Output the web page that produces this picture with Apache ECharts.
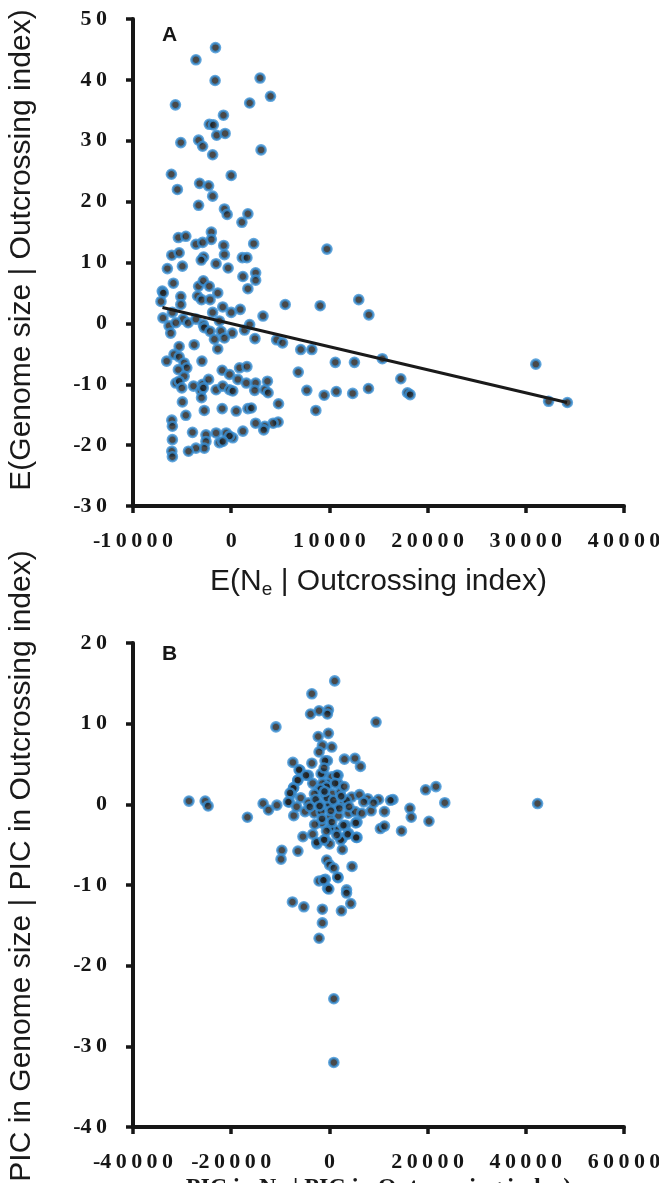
<!DOCTYPE html>
<html>
<head>
<meta charset="utf-8">
<script src="https://cdn.jsdelivr.net/npm/echarts@6/dist/echarts.min.js"></script>
<style>
  html, body { margin: 0; padding: 0; background: #fff; }
  #chart { width: 659px; height: 1183px; }
</style>
</head>
<body>
<div id="chart"></div>
<script>
// Panel A: E(Genome size | Outcrossing index) vs E(Ne | Outcrossing index)
const aX = [-1600, -3590, -1640, 2940, 4000, -5680, 1880, -790, -2230, -1820, -1480, -620, -5130, -3320, -2910, 3040, -1890, -6090, 0, -5480,
  -3220, -2300, -1890, -3320, -690, -410, 1700, 1090, -5380, -4620, -2020, -2020, -3590, -2910, -760, 2290, -6050, -5300, -690, -2810,
  1130, 1600, -6500, -4970, -3050, -1540, -310, 9750, 1190, 2490, 2490, 1700, -5890, -7020, -6920, -7150, -5130, -5130, -3320, -2840,
  -2230, -1370, -3430, -3020, -2150, -860, 0, 920, 3240, 5500, 9060, -6950, -5990, -4900, -4380, -3590, -2840, -2740, -1890, -1200,
  -6330, -5640, -6160, -2150, -1030, 100, 1360, 1880, -1710, -690, 2420, 4620, 5230, -3770, -1370, -5300, 7080, 8210, -6570, -5820,
  -5300, -4790, -4520, -2980, -5380, 850, 1600, -920, -170, -4790, -5640, -5300, -5030, -3840, -2910, -2300, -3080, -2840, -1540, -860,
  -170, 160, 680, 1540, 2490, 2390, 3420, 3690, 3760, 7700, 9470, 6830, -3020, -4970, -920, -2740, 510, 1700, 2050, 4820,
  8620, -4620, -6050, -5990, 4780, 4270, 3420, 3310, 2490, 1190, 160, -3940, -2570, -1540, -510, -170, -1200, -860, -2570, -5990,
  -2740, -3590, -4350, -6050, -5990, 12990, 14020, 10600, 12550, 15390, 10700, 12370, 13980, 17270, 17950, 18220, 31020, 32320, 34230];
const aY = [45.3, 43.3, 39.9, 40.3, 37.3, 35.9, 36.2, 34.2, 32.7, 32.6, 30.9, 31.2, 29.7, 30.1, 29.1, 28.5, 27.7, 24.5, 24.3, 22.0,
  23.0, 22.6, 20.9, 19.4, 18.8, 17.9, 18.0, 16.6, 14.1, 14.3, 15.0, 13.8, 13.0, 13.3, 12.8, 13.1, 11.2, 11.6, 11.3, 10.9,
  10.8, 10.8, 9.0, 9.4, 10.4, 9.8, 9.1, 12.2, 7.7, 8.3, 7.1, 5.7, 6.6, 5.3, 5.0, 3.6, 4.4, 3.1, 6.1, 7.0,
  6.1, 5.0, 4.5, 3.9, 3.9, 2.7, 1.8, 2.3, 1.2, 3.1, 2.9, 0.9, 1.8, 0.7, 0.1, 0.7, -0.2, -0.7, 1.8, 0.4,
  -0.4, 0.1, -1.6, -1.3, -1.3, -1.6, -1.1, -0.2, -2.6, -2.4, -2.5, -2.7, -3.2, -3.5, -4.2, -3.8, -4.3, -4.3, -6.2, -5.1,
  -5.5, -6.5, -7.3, -6.2, -7.6, -7.3, -7.1, -7.7, -8.4, -8.7, -9.8, -9.5, -10.6, -10.3, -10.0, -9.2, -11.1, -10.6, -10.9, -10.3,
  -10.9, -11.1, -9.2, -9.8, -9.8, -11.0, -10.9, -9.5, -11.4, -11.0, -11.8, -8.0, -12.2, -12.9, -14.0, -14.3, -14.4, -14.0, -13.9, -13.2,
  -14.3, -15.1, -15.9, -16.9, -16.2, -16.4, -16.9, -17.5, -16.4, -17.7, -18.8, -17.9, -18.3, -18.0, -18.0, -18.5, -19.6, -19.4, -19.4, -19.1,
  -20.5, -20.5, -21.0, -21.0, -21.9, 3.9, 1.4, -6.4, -6.4, -5.8, -11.2, -11.5, -10.7, -9.1, -11.4, -11.7, -6.7, -12.8, -13.0];
// fitted regression line in panel A (end points)
const fitX = [-7000, 34200];
const fitY = [2.6, -13.0];

// Panel B: PIC in Genome size vs PIC in Ne
const bX = [1080, -3570, -3840, -2100, -200, -400, -10890, 9500, -2280, -200, -1430, 480, -2100, 3060, 5200, 6320, -7440, -3570, -400, -5980,
  -4280, -1240, 470, 1770, -6410, -7260, -7710, -3400, -2100, -390, 1770, 19600, 21700, 23500, 42400, -28600, -25300, -24700, -16700, -13500,
  -12400, -10700, -8140, -7260, 12950, 11220, 16400, 16670, 20280, 10380, 11220, 14690, 5630, 3320, 470, 1350, 3920, 5630, -5390, -3400,
  -820, -2530, 40, 2630, 2630, -9690, -9850, -6410, -550, 40, 900, 4610, 1770, -2100, -820, -390, 3490, -120, 3490, -7530,
  -5200, -1430, 2450, 4350, -1430, -2100, 900, 900, -6180, -4760, -6460, -7340, -8020, -1690, -1430, -550, -1770, -3060, -1020, 610,
  2180, 1490, 1160, -5850, -4280, -2240, -1020, 1160, 2860, 4550, 6120, 7810, 10000, 12440, -8360, -6670, -4960, -3060, -1690, 140,
  1840, 3880, 5240, 6590, 8510, -1570, 140, 2860, 5370, -2590, -1080, 2310, 3730, 5450, 1690, -1220, -880, -1080, 0, -500,
  800, 2000, 3500, -2800, -1500, 500, 2400, 4000, 1500, -600, -3000, 7000, 9000, -4000, -1000, 3000, 300, -2000];
const bY = [15.3, 13.7, 11.2, 11.6, 11.7, 11.2, 9.6, 10.2, 8.4, 8.8, 7.3, 7.1, 6.5, 5.6, 5.7, 4.7, 5.2, 5.1, 5.4, 4.2,
  3.6, 3.8, 3.4, 3.6, 3.0, 2.1, 1.3, 2.6, 1.9, 2.6, 2.6, 1.8, 2.2, 0.2, 0.1, 0.4, 0.4, -0.2, -1.6, 0.1,
  -0.7, -0.1, 0.3, -1.4, 0.6, -0.9, -0.5, -1.6, -2.1, -3.0, -2.7, -3.3, -2.2, -2.6, -3.0, -3.2, -3.6, -4.1, -4.0, -3.7,
  -4.4, -4.9, -4.9, -4.2, -5.6, -5.7, -6.8, -5.8, -6.9, -7.5, -7.9, -7.7, -9.1, -9.5, -9.3, -10.4, -10.6, -10.5, -11.0, -12.1,
  -12.7, -13.0, -13.2, -12.3, -14.7, -16.6, -24.1, -32.0, 4.3, 3.6, 3.0, 2.0, 1.4, 3.8, 2.6, 2.2, 1.9, 1.3, 1.2, 1.3,
  1.5, 3.6, 2.6, 0.8, 0.2, 0.1, -0.3, -0.2, 0.2, 0.9, 1.2, 0.7, 0.6, 0.5, 0.3, -0.3, -0.9, -1.1, -0.9, -1.6,
  -1.4, -1.1, -0.9, -1.1, -0.8, -2.3, -2.9, -2.6, -2.3, -4.7, -4.4, -4.4, -3.7, -4.1, -9.0, -9.4, 5.4, 4.5, 0.0, 0.8,
  0.5, -0.5, 0.5, 0.6, -1.8, -2.2, 1.0, -0.3, -3.8, -3.3, -2.5, 0.3, 0.2, -0.3, 1.6, 2.2, -0.8, -0.2];

const pairs = (xs, ys) => xs.map((x, i) => [x, ys[i]]);

// tick labels: bold serif, digits pulled apart with thin spaces
const spaced = v => {
  const s = String(v);
  const neg = s[0] === '-';
  const digits = (neg ? s.slice(1) : s).split('').join('\u2009');
  return (neg ? '-' : '') + digits;
};

const axisColor = '#161616';
const tickFont = { color: axisColor, fontFamily: 'Liberation Serif', fontWeight: 700, fontSize: 22 };

function valueAxis(extra) {
  return Object.assign({
    type: 'value',
    splitLine: { show: false },
    axisLine: { show: true, onZero: false, lineStyle: { color: axisColor, width: 4 } },
    axisTick: { show: true, length: 7, lineStyle: { color: axisColor, width: 3.5 } },
    axisLabel: Object.assign({ formatter: spaced }, tickFont)
  }, extra);
}

const dotStyle = { color: '#1b1b1b', borderColor: '#3990d4', borderWidth: 2.6 };

const chart = echarts.init(document.getElementById('chart'));

const option = {
  backgroundColor: '#fff',
  animation: false,
  grid: [
    { left: 133, top: 19, width: 491, height: 487, containLabel: false, outerBoundsMode: 'none' },
    { left: 133, top: 643, width: 491, height: 484, containLabel: false, outerBoundsMode: 'none' }
  ],
  xAxis: [
    valueAxis({
      gridIndex: 0, min: -10000, max: 40000, interval: 10000,
      axisLabel: Object.assign({ formatter: spaced, margin: 24 }, tickFont),
      name: '{a|E(N}{s|e}{a| | Outcrossing index)}',
      nameLocation: 'middle', nameGap: 58,
      nameTextStyle: {
        rich: {
          a: { fontFamily: 'Liberation Sans', fontSize: 30, color: '#1a1a1a' },
          s: { fontFamily: 'Liberation Sans', fontSize: 19, color: '#1a1a1a', padding: [16, 0, 0, 0] }
        }
      }
    }),
    valueAxis({
      gridIndex: 1, min: -40000, max: 60000, interval: 20000,
      axisLabel: Object.assign({ formatter: spaced, margin: 24 }, tickFont),
      name: 'PIC in Ne | PIC in Outcrossing index)',
      nameLocation: 'middle', nameGap: 49,
      nameTextStyle: { fontFamily: 'Liberation Serif', fontWeight: 'bold', fontSize: 24, color: '#1a1a1a' }
    })
  ],
  yAxis: [
    valueAxis({
      gridIndex: 0, min: -30, max: 50, interval: 10,
      axisLabel: Object.assign({ formatter: spaced, margin: 26 }, tickFont)
    }),
    valueAxis({
      gridIndex: 1, min: -40, max: 20, interval: 10,
      axisLabel: Object.assign({ formatter: spaced, margin: 26 }, tickFont)
    })
  ],
  graphic: [
    {
      type: 'text', x: 22, y: 250, rotation: Math.PI / 2,
      style: {
        text: 'E(Genome size | Outcrossing index)',
        font: '30px "Liberation Sans"', fill: '#1a1a1a',
        align: 'center', verticalAlign: 'middle', textAlign: 'center', textVerticalAlign: 'middle'
      }
    },
    {
      type: 'text', x: 22, y: 866, rotation: Math.PI / 2,
      style: {
        text: 'PIC in Genome size | PIC in Outcrossing index)',
        font: '30px "Liberation Sans"', fill: '#1a1a1a',
        align: 'center', verticalAlign: 'middle', textAlign: 'center', textVerticalAlign: 'middle'
      }
    },
    { type: 'text', x: 162, y: 25, style: { text: 'A', font: 'bold 21px "Liberation Sans"', fill: '#161616' } },
    { type: 'text', x: 162, y: 644, style: { text: 'B', font: 'bold 21px "Liberation Sans"', fill: '#161616' } }
  ],
  series: [
    {
      type: 'scatter', xAxisIndex: 0, yAxisIndex: 0,
      data: pairs(aX, aY), symbolSize: 9, itemStyle: dotStyle, z: 2
    },
    {
      type: 'line', xAxisIndex: 0, yAxisIndex: 0,
      data: pairs(fitX, fitY), symbol: 'none',
      lineStyle: { color: '#1a1a1a', width: 3 }, z: 3
    },
    {
      type: 'scatter', xAxisIndex: 1, yAxisIndex: 1,
      data: pairs(bX, bY), symbolSize: 9, itemStyle: dotStyle, z: 2
    }
  ]
};

chart.setOption(option);
</script>
</body>
</html>
